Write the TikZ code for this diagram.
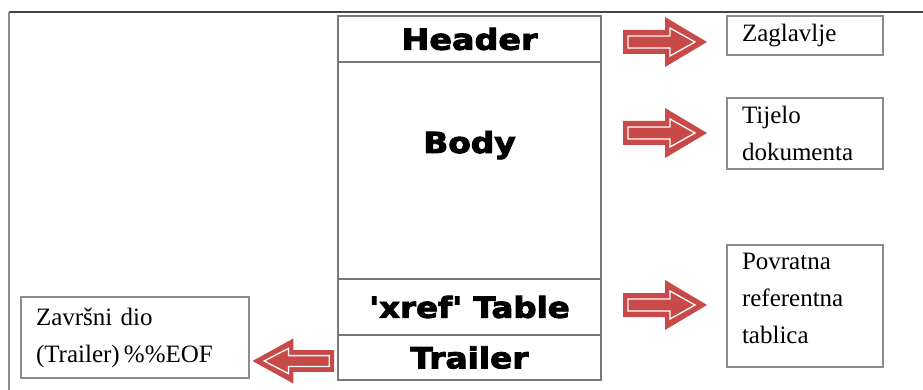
\documentclass[tikz,border=0pt]{standalone}
\usepackage{fontspec}
\setmainfont{Liberation Serif}
\newfontfamily\hdrfont{DejaVu Sans}[BoldFeatures={FakeBold=3}]
\definecolor{arrowred}{RGB}{200,74,72}
\definecolor{boxgray}{RGB}{140,140,140}
\definecolor{stackgray}{RGB}{120,120,120}
\definecolor{framegray}{RGB}{70,70,70}
\tikzset{
  partbox/.style={draw=stackgray, line width=2.5pt, minimum width=263pt, inner sep=0pt, outer sep=0pt,
    font=\hdrfont\bfseries\fontsize{29}{32}\selectfont},
  notebox/.style={draw=boxgray, line width=1.5pt, inner xsep=15pt, inner ysep=0pt, outer sep=0pt,
    align=left, font=\fontsize{25}{37}\selectfont},
  arrowouter/.style={fill=arrowred},
  arrowinner/.style={draw=white, line width=1.3pt, line join=miter},
}
\newcommand{\blockarrowshape}{%
  \path[arrowouter] (0,-12) -- (42,-12) -- (42,-25) -- (84,0) -- (42,25) -- (42,12) -- (0,12) -- cycle;
  \path[arrowinner] (5,-6) -- (47,-6) -- (47,-14) -- (72,0) -- (47,14) -- (47,6) -- (5,6) -- cycle;
}
\begin{document}
\begin{tikzpicture}[x=1pt,y=-1pt]
\useasboundingbox (0,0) rectangle (923,390);
% outer frame
\draw[framegray, line width=2pt] (9,12) -- (923,12);
\draw[boxgray, line width=2pt] (9,12) -- (9,390);
% stack
\node[partbox, minimum height=46pt] (header) at (469.5,39) {\scalebox{1.15}[1]{Header}};
\node[partbox, minimum height=217pt, text height=21pt, text depth=56pt] (body) at (469.5,170.5) {\scalebox{1.13}[1]{Body}};
\node[partbox, minimum height=56pt] (xref) at (469.5,307) {\scalebox{1.12}[1]{'xref' Table}};
\node[partbox, minimum height=45pt] (trailer) at (469.5,357.5) {\scalebox{1.13}[1]{Trailer}};
% notes
\node[notebox, minimum width=156pt, minimum height=39pt, text width=126pt] (zag) at (805,35.5) {Zaglavlje};
\node[notebox, minimum width=156pt, minimum height=71pt, text width=126pt] (tij) at (805,133.5) {Tijelo\\dokumenta};
\node[notebox, minimum width=156pt, minimum height=122pt, text width=126pt, text height=17pt, text depth=90pt] (pov) at (805,306) {Povratna\\referentna\\tablica};
\node[notebox, minimum width=228pt, minimum height=81pt, text width=198pt] (zav) at (135,337.5) {Završni dio\\(Trailer)\,\%\%EOF};
% block arrows
\begin{scope}[shift={(623,42)}]\blockarrowshape\end{scope}
\begin{scope}[shift={(623,133)}]\blockarrowshape\end{scope}
\begin{scope}[shift={(623,305)}]\blockarrowshape\end{scope}
\begin{scope}[shift={(334,361)}, xscale=-0.97, yscale=0.9]\blockarrowshape\end{scope}
\end{tikzpicture}
\end{document}
